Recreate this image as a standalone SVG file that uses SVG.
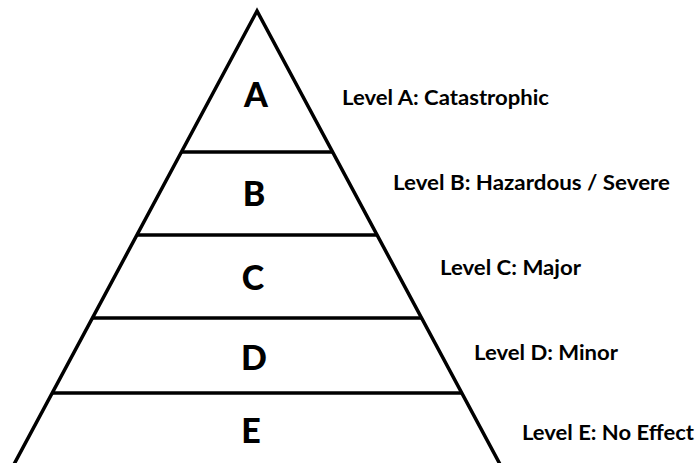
<svg xmlns="http://www.w3.org/2000/svg" width="696" height="463" viewBox="0 0 696 463">
<style>
.ln{stroke:#000;stroke-width:3.5;fill:none;stroke-linejoin:miter}
.big{font-family:Lato,"Open Sans",sans-serif;font-weight:900;font-size:34px;fill:#000;text-anchor:middle}
.lab{font-family:Lato,"Open Sans",sans-serif;font-weight:bold;font-size:20px;fill:#000}
</style>
<rect width="696" height="463" fill="#fff"/>
<g id="connectors">
<path class="ln" d="M12,468 L257,11 L502,468"/>
<line class="ln" x1="181" y1="152" x2="332" y2="152"/>
<line class="ln" x1="137" y1="235" x2="377" y2="235"/>
<line class="ln" x1="93" y1="318" x2="421" y2="318"/>
<line class="ln" x1="52" y1="393" x2="462" y2="393"/>
</g>
<g id="A"><text class="big" x="256" y="107">A</text><text class="lab" x="342" y="105" textLength="207" lengthAdjust="spacingAndGlyphs">Level A: Catastrophic</text></g>
<g id="B"><text class="big" x="254" y="206">B</text><text class="lab" x="393" y="190" textLength="277" lengthAdjust="spacingAndGlyphs">Level B: Hazardous / Severe</text></g>
<g id="C"><text class="big" x="253" y="290">C</text><text class="lab" x="440" y="275" textLength="141" lengthAdjust="spacingAndGlyphs">Level C: Major</text></g>
<g id="D"><text class="big" x="254" y="370">D</text><text class="lab" x="474" y="360" textLength="144" lengthAdjust="spacingAndGlyphs">Level D: Minor</text></g>
<g id="E"><text class="big" x="251" y="443">E</text><text class="lab" x="522" y="440" textLength="172" lengthAdjust="spacingAndGlyphs">Level E: No Effect</text></g>
</svg>
